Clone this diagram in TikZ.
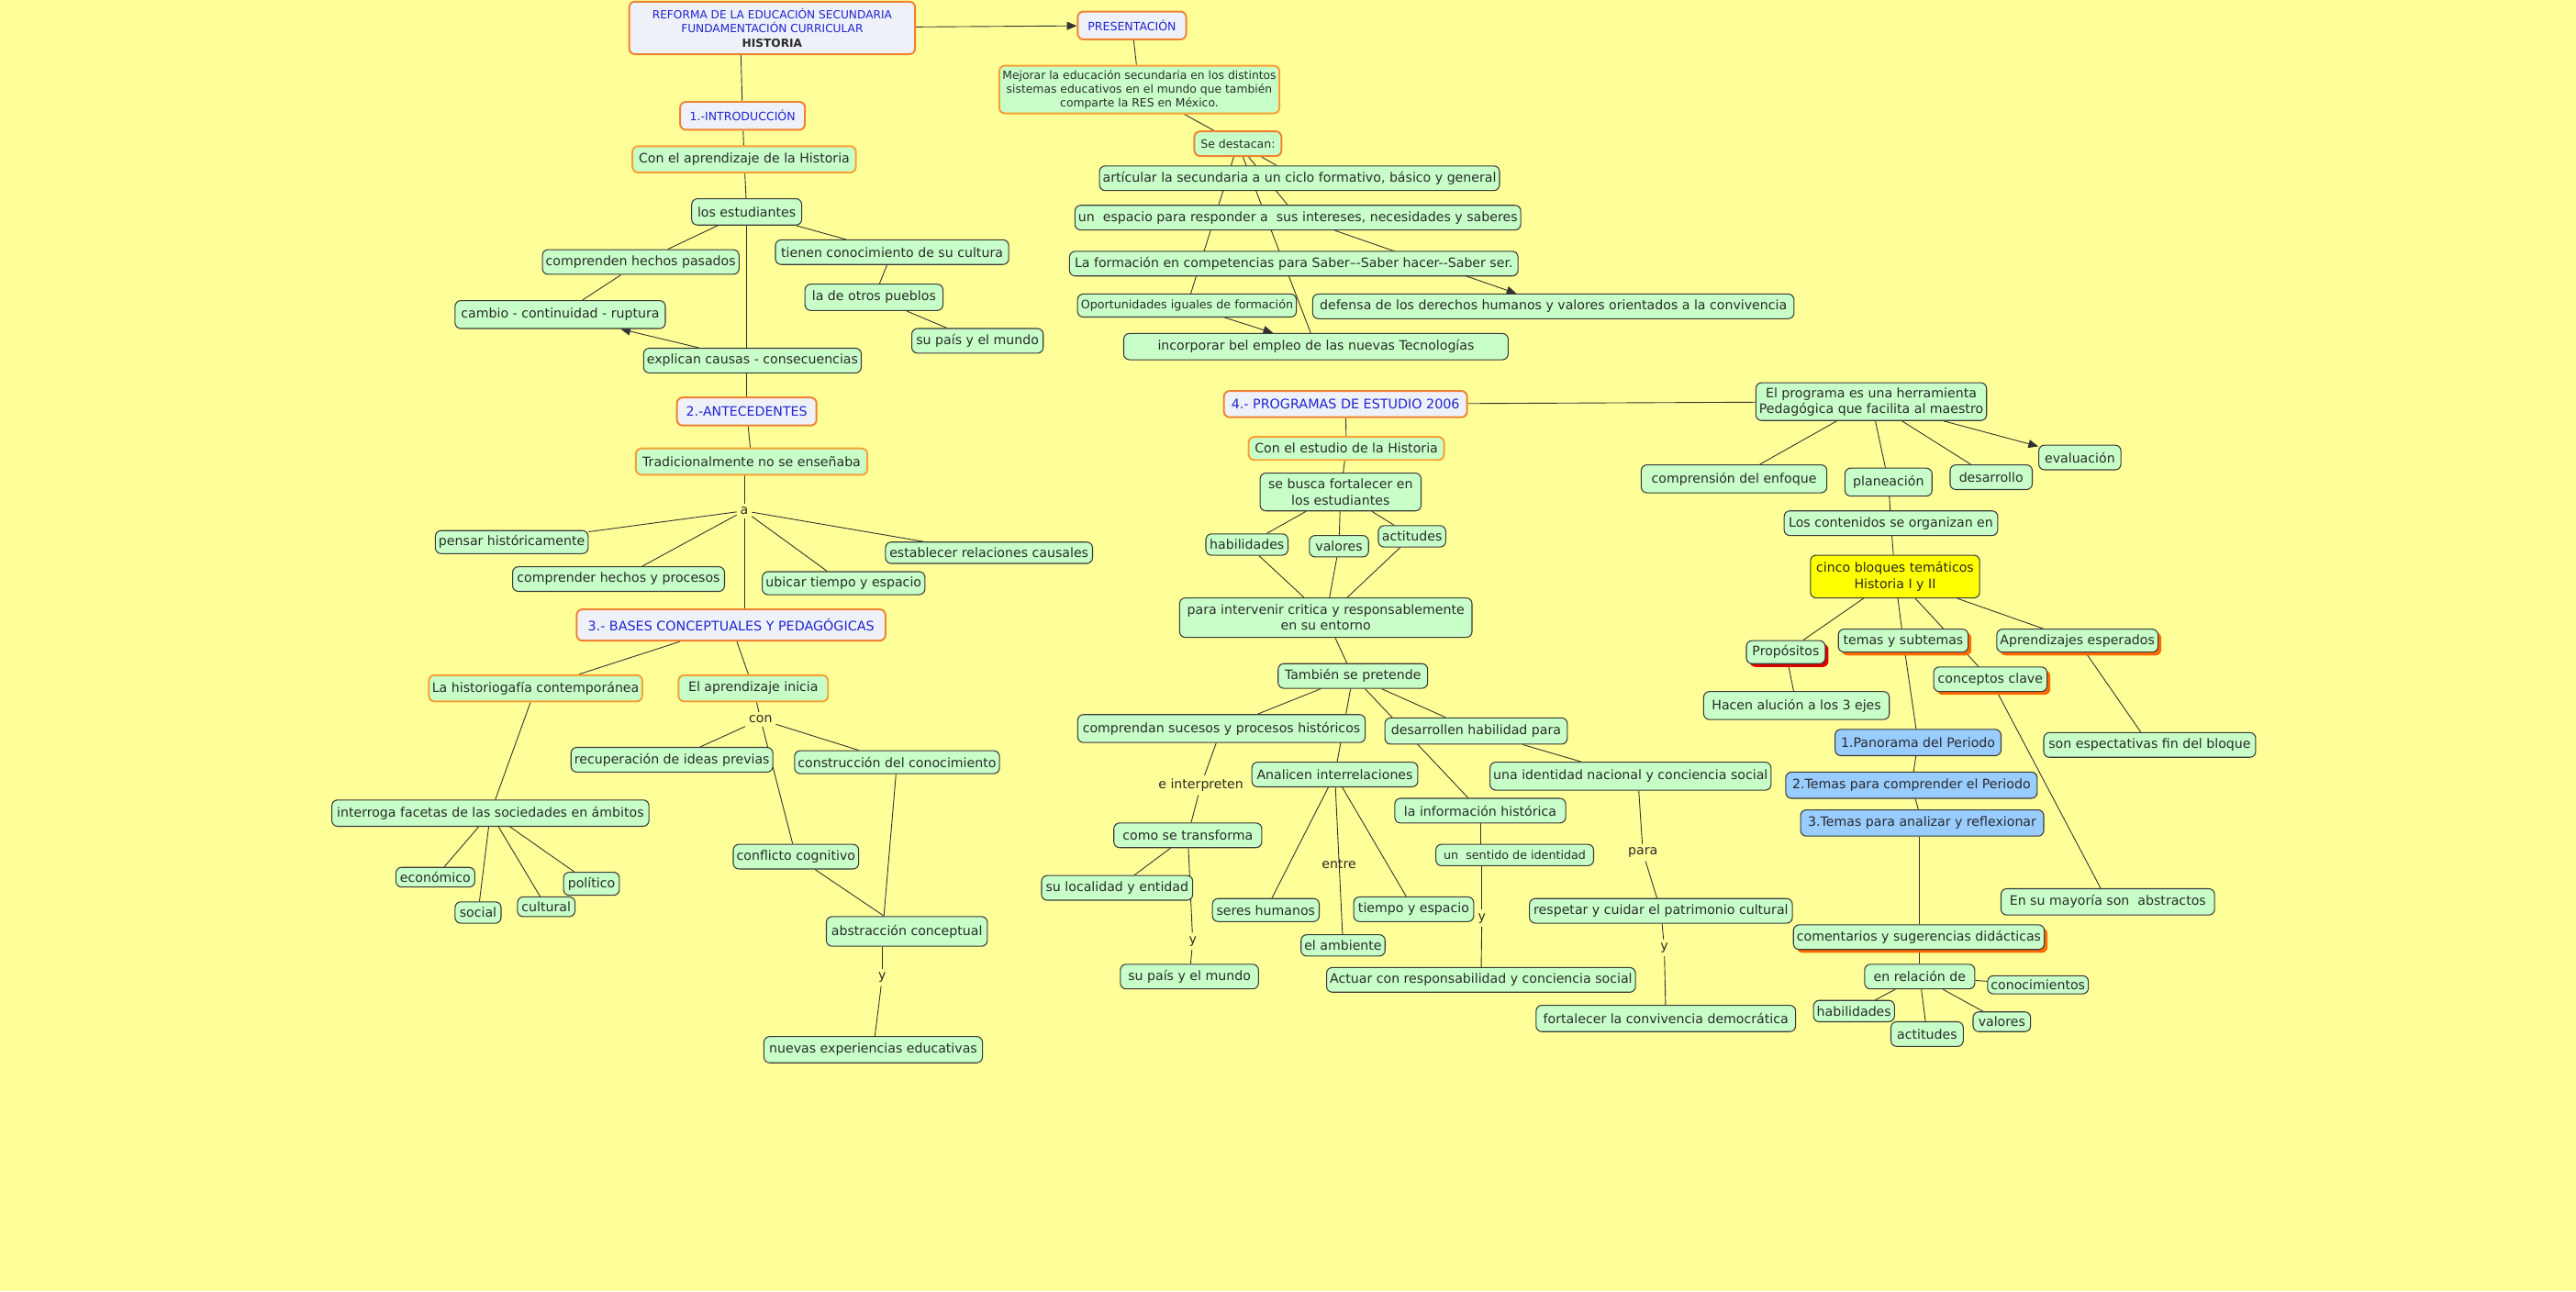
\documentclass[tikz,border=0pt]{standalone}
\usepackage{fontspec}
\setmainfont{DejaVu Sans}
\usetikzlibrary{arrows.meta,shadows}
\definecolor{bgcol}{HTML}{FFFF99}
\definecolor{gfill}{HTML}{C8FFC8}
\definecolor{bord}{HTML}{3A3A3A}
\definecolor{orb}{HTML}{F8A030}
\definecolor{hdb}{HTML}{F08232}
\definecolor{hfill}{HTML}{EEF2F8}
\definecolor{hblue}{HTML}{2323D0}
\definecolor{txt}{HTML}{2A2A2A}
\definecolor{lncol}{HTML}{333333}
\definecolor{bluefill}{HTML}{99CCFF}
\definecolor{yel}{HTML}{FFFF00}
\definecolor{shor}{HTML}{FF6A00}
\definecolor{shred}{HTML}{DD0000}
\pgfdeclarelayer{bg}
\pgfdeclarelayer{edges}
\pgfsetlayers{bg,edges,main}
\tikzset{
  every node/.style={font=\fontsize{7.9}{9.6}\selectfont, text=txt},
  g/.style={draw=bord, fill=gfill, rounded corners=3.5pt, line width=0.6pt, inner xsep=2pt, inner ysep=1pt, align=center},
  go/.style={g, draw=orb, line width=1.1pt},
  hd/.style={g, draw=hdb, fill=hfill, line width=1.1pt, text=hblue},
  bl/.style={g, fill=bluefill},
  lk/.style={inner sep=2pt},
  osh/.style={drop shadow={shadow xshift=2pt, shadow yshift=-2pt, fill=shor, opacity=1}},
  rsh/.style={drop shadow={shadow xshift=2pt, shadow yshift=-2pt, fill=shred, opacity=1}},
  ln/.style={line width=0.5pt, draw=lncol},
  ar/.style={ln, -{Triangle[length=6pt,width=5pt]}},
  sm/.style={font=\fontsize{7}{8.4}\selectfont},
}
\begin{document}
\begin{tikzpicture}[x=1pt,y=1pt]
\useasboundingbox (0,0) rectangle (1568,-786);
\begin{pgfonlayer}{bg}
\fill[bgcol] (0,0) rectangle (1568,-786);
\end{pgfonlayer}

% ---------- top ----------
\node[hd, minimum width=174pt, minimum height=32pt, font=\fontsize{6.8}{8.4}\selectfont] (title) at (470,-17)
  {REFORMA DE LA EDUCACIÓN SECUNDARIA\\FUNDAMENTACIÓN CURRICULAR\\\textcolor{txt}{\textbf{HISTORIA}}};
\node[hd, sm, minimum width=66pt, minimum height=17pt] (presentacion) at (689,-15.5) {PRESENTACIÓN};
\node[go, minimum width=169pt, minimum height=29pt, font=\fontsize{6.9}{8.3}\selectfont] (mejorar) at (693.5,-54.5)
  {Mejorar la educación secundaria en los distintos\\sistemas educativos en el mundo que también\\comparte la RES en México.};
\node[g, draw=hdb, line width=1.1pt, sm, minimum width=53pt, minimum height=15pt] (destacan) at (753.5,-87.5) {Se destacan:};
\node[g, minimum width=242pt, minimum height=15pt] (articular) at (791,-108.5) {artícular la secundaria a un ciclo formativo, básico y general};
\node[g, minimum width=270pt, minimum height=15pt] (espacio) at (790,-132.5) {un\ \ espacio para responder a\ \ sus intereses, necesidades y saberes};
\node[g, minimum width=273pt, minimum height=15pt] (formacion) at (787.5,-160.5) {La formación en competencias para Saber--{}-Saber hacer-{}-Saber ser.};
\node[g, font=\fontsize{7.1}{8.5}\selectfont, minimum width=127pt, minimum height=14pt] (oportunidades) at (722.5,-186) {Oportunidades iguales de formación};
\node[g, minimum width=293pt, minimum height=15pt] (defensa) at (945.5,-186.5) {defensa de los derechos humanos y valores orientados a la convivencia};
\node[g, minimum width=234pt, minimum height=16pt] (incorporar) at (801,-211) {incorporar bel empleo de las nuevas Tecnologías};

% ---------- left ----------
\node[hd, sm, minimum width=76pt, minimum height=17pt] (intro) at (452,-70.5) {1.-INTRODUCCIÓN};
\node[go, minimum width=136pt, minimum height=16pt] (conaprend) at (453,-97) {Con el aprendizaje de la Historia};
\node[g, minimum width=67pt, minimum height=16pt] (estudiantes) at (454.5,-129) {los estudiantes};
\node[g, minimum width=118pt, minimum height=15pt] (comprenden) at (390,-159.5) {comprenden hechos pasados};
\node[g, minimum width=142pt, minimum height=15pt] (tienen) at (543,-153.5) {tienen conocimiento de su cultura};
\node[g, minimum width=84pt, minimum height=16pt] (otros) at (532,-181) {la de otros pueblos};
\node[g, minimum width=80pt, minimum height=15pt] (supais1) at (595,-207.5) {su país y el mundo};
\node[g, minimum width=128pt, minimum height=17pt] (cambio) at (341,-191.5) {cambio - continuidad - ruptura};
\node[g, minimum width=132pt, minimum height=15pt] (explican) at (458,-219.5) {explican causas - consecuencias};
\node[hd, minimum width=85pt, minimum height=17pt] (antecedentes) at (454.5,-250.5) {2.-ANTECEDENTES};
\node[go, minimum width=141pt, minimum height=16pt] (tradicional) at (457.5,-281) {Tradicionalmente no se enseñaba};
\node[lk] (a) at (453,-311) {a};
\node[g, minimum width=93pt, minimum height=14pt] (pensar) at (311.5,-330) {pensar históricamente};
\node[g, minimum width=129pt, minimum height=15pt] (comprender) at (376.5,-352.5) {comprender hechos y procesos};
\node[g, minimum width=99pt, minimum height=14pt] (ubicar) at (513.5,-355) {ubicar tiempo y espacio};
\node[g, minimum width=126pt, minimum height=13pt] (establecer) at (602,-336.5) {establecer relaciones causales};
\node[hd, font=\fontsize{8}{9.6}\selectfont, minimum width=188pt, minimum height=19pt] (bases) at (445,-380.5) {3.- BASES CONCEPTUALES Y PEDAGÓGICAS};
\node[go, minimum width=128pt, minimum height=16pt] (historiografia) at (326,-419) {La historiogafía contemporánea};
\node[go, minimum width=91pt, minimum height=16pt] (aprendinicia) at (458.5,-419) {El aprendizaje inicia};
\node[lk] (con) at (463,-438) {con};
\node[g, minimum width=122pt, minimum height=15pt] (recuperacion) at (409,-462.5) {recuperación de ideas previas};
\node[g, minimum width=124pt, minimum height=14pt] (construccion) at (546,-464) {construcción del conocimiento};
\node[g, minimum width=75pt, minimum height=15pt] (conflicto) at (484.5,-521.5) {conflicto cognitivo};
\node[g, minimum width=98pt, minimum height=18pt] (abstraccion) at (552,-567) {abstracción conceptual};
\node[lk] (y1) at (537,-595) {y};
\node[g, minimum width=133pt, minimum height=16pt] (nuevas) at (531.5,-639) {nuevas experiencias educativas};
\node[g, minimum width=193pt, minimum height=16pt] (interroga) at (298.5,-495) {interroga facetas de las sociedades en ámbitos};
\node[g, minimum width=48pt, minimum height=12pt] (economico) at (265,-534) {económico};
\node[g, minimum width=28pt, minimum height=13pt] (social) at (291,-555.5) {social};
\node[g, minimum width=35pt, minimum height=12pt] (cultural) at (332.5,-552) {cultural};
\node[g, minimum width=34pt, minimum height=14pt] (politico) at (360,-538) {político};

% ---------- middle ----------
\node[hd, font=\fontsize{8}{9.6}\selectfont, minimum width=148pt, minimum height=16pt] (programas) at (819,-246) {4.- PROGRAMAS DE ESTUDIO 2006};
\node[g, minimum width=140pt, minimum height=23pt] (elprograma) at (1139,-244.5) {El programa es una herramienta\\Pedagógica que facilita al maestro};
\node[go, minimum width=119pt, minimum height=14pt] (conestudio) at (819.5,-273) {Con el estudio de la Historia};
\node[g, minimum width=98pt, minimum height=23pt] (sebusca) at (816,-299.5) {se busca fortalecer en\\los estudiantes};
\node[g, minimum width=50pt, minimum height=13pt] (habilidades1) at (759,-331.5) {habilidades};
\node[g, minimum width=36pt, minimum height=13pt] (valores1) at (815,-332.5) {valores};
\node[g, minimum width=41pt, minimum height=13pt] (actitudes1) at (859.5,-326.5) {actitudes};
\node[g, minimum width=178pt, minimum height=24pt] (paraintervenir) at (807,-376) {para intervenir critica y responsablemente\\en su entorno};
\node[g, minimum width=91pt, minimum height=15pt] (tambien) at (823.5,-411.5) {También se pretende};
\node[g, minimum width=175pt, minimum height=17pt] (comprendan) at (743.5,-443.5) {comprendan sucesos y procesos históricos};
\node[g, minimum width=111pt, minimum height=16pt] (desarrollen) at (898.5,-445) {desarrollen habilidad para};
\node[g, minimum width=101pt, minimum height=15pt] (analicen) at (812.5,-471.5) {Analicen interrelaciones};
\node[lk] (einterpreten) at (731,-478) {e interpreten};
\node[g, minimum width=90pt, minimum height=15pt] (comotransforma) at (723,-508.5) {como se transforma};
\node[g, minimum width=92pt, minimum height=15pt] (sulocalidad) at (680,-540.5) {su localidad y entidad};
\node[lk] (y2) at (726,-573) {y};
\node[g, minimum width=84pt, minimum height=15pt] (supais2) at (724,-594.5) {su país y el mundo};
\node[lk] (entre) at (815,-526) {entre};
\node[g, minimum width=65pt, minimum height=14pt] (seres) at (770.5,-554) {seres humanos};
\node[g, minimum width=51pt, minimum height=13pt] (ambiente) at (817.5,-575.5) {el ambiente};
\node[g, minimum width=73pt, minimum height=15pt] (tiempo) at (860.5,-553.5) {tiempo y espacio};
\node[g, minimum width=171pt, minimum height=17pt] (identidadnac) at (992.5,-472.5) {una identidad nacional y conciencia social};
\node[g, minimum width=104pt, minimum height=15pt] (infohist) at (901,-493.5) {la información histórica};
\node[g, font=\fontsize{7.1}{8.5}\selectfont, minimum width=96pt, minimum height=13pt] (sentido) at (922,-520.5) {un\ \ sentido de identidad};
\node[lk] (y3) at (902,-559) {y};
\node[g, minimum width=187pt, minimum height=15pt] (actuar) at (901.5,-596.5) {Actuar con responsabilidad y conciencia social};
\node[lk] (para) at (1000,-519) {para};
\node[g, minimum width=160pt, minimum height=15pt] (respetar) at (1011,-554.5) {respetar y cuidar el patrimonio cultural};
\node[lk] (y4) at (1013,-577) {y};
\node[g, minimum width=158pt, minimum height=16pt] (fortalecer) at (1014,-620) {fortalecer la convivencia democrática};

% ---------- right ----------
\node[g, minimum width=113pt, minimum height=17pt] (comprension) at (1055.5,-291.5) {comprensión del enfoque};
\node[g, minimum width=53pt, minimum height=17pt] (planeacion) at (1149.5,-293.5) {planeación};
\node[g, minimum width=50pt, minimum height=15pt] (desarrollo) at (1212,-290.5) {desarrollo};
\node[g, minimum width=50pt, minimum height=15pt] (evaluacion) at (1266,-278.5) {evaluación};
\node[g, minimum width=130pt, minimum height=15pt] (contenidos) at (1151,-318.5) {Los contenidos se organizan en};
\node[g, fill=yel, minimum width=103pt, minimum height=26pt] (cinco) at (1153.5,-351) {cinco bloques temáticos\\Historia I y II};
\node[g, rsh, minimum width=48pt, minimum height=14pt] (propositos) at (1087,-397) {Propósitos};
\node[g, osh, minimum width=79pt, minimum height=14pt] (temas) at (1158.5,-390) {temas y subtemas};
\node[g, osh, minimum width=97pt, minimum height=14pt] (aprendizajes) at (1264.5,-390) {Aprendizajes esperados};
\node[g, osh, minimum width=69pt, minimum height=15pt] (conceptos) at (1211.5,-413.5) {conceptos clave};
\node[g, minimum width=113pt, minimum height=17pt] (hacen) at (1093.5,-429.5) {Hacen alución a los 3 ejes};
\node[bl, minimum width=101pt, minimum height=16pt] (panorama) at (1167.5,-452) {1.Panorama del Periodo};
\node[bl, minimum width=153pt, minimum height=16pt] (temas2) at (1163.5,-478) {2.Temas para comprender el Periodo};
\node[bl, minimum width=148pt, minimum height=16pt] (temas3) at (1170,-501) {3.Temas para analizar y reflexionar};
\node[g, minimum width=129pt, minimum height=15pt] (sonesp) at (1308.5,-453.5) {son espectativas fin del bloque};
\node[g, minimum width=130pt, minimum height=16pt] (mayoria) at (1283,-549) {En su mayoría son\ \ abstractos};
\node[g, osh, minimum width=152pt, minimum height=15pt] (comentarios) at (1168,-570.5) {comentarios y sugerencias didácticas};
\node[g, minimum width=67pt, minimum height=15pt] (enrelacion) at (1168.5,-594.5) {en relación de};
\node[g, minimum width=61pt, minimum height=11pt] (conocimientos) at (1240.5,-599.5) {conocimientos};
\node[g, minimum width=49pt, minimum height=13pt] (habilidades2) at (1128.5,-615.5) {habilidades};
\node[g, minimum width=44pt, minimum height=15pt] (actitudes2) at (1173,-629.5) {actitudes};
\node[g, minimum width=35pt, minimum height=12pt] (valores2) at (1218.5,-622) {valores};

% ---------- connectors ----------
\begin{pgfonlayer}{edges}
\draw[ar] (title) -- (presentacion);
\draw[ln] ([xshift=-19pt]title.south) -- (intro);
\draw[ln] (presentacion) -- (mejorar);
\draw[ln] (mejorar) -- (destacan);
\draw[ln] (destacan) -- (articular);
\draw[ln] (destacan) -- (espacio);
\draw[ln] (destacan) -- (oportunidades);
\draw[ln] (destacan) -- (incorporar);
\draw[ar] (espacio) -- (defensa);
\draw[ar] (oportunidades) -- (incorporar);

\draw[ln] (intro) -- (conaprend);
\draw[ln] (conaprend) -- (estudiantes);
\draw[ln] (estudiantes) -- (estudiantes |- explican.north);
\draw[ln] (explican.south -| antecedentes) -- (antecedentes);
\draw[ln] (estudiantes) -- (comprenden);
\draw[ln] (estudiantes) -- (tienen);
\draw[ln] (comprenden) -- (cambio);
\draw[ln] (tienen) -- (otros);
\draw[ln] (otros) -- (supais1);
\draw[ar] (explican) -- (cambio);
\draw[ln] (antecedentes) -- (tradicional);
\draw[ln] (tradicional.south -| a) -- (a);
\draw[ln] (a) -- (pensar);
\draw[ln] (a) -- (comprender);
\draw[ln] (a) -- (ubicar);
\draw[ln] (a) -- (establecer);
\draw[ln] (a) -- (a |- bases.north);
\draw[ln] (bases) -- (historiografia);
\draw[ln] (bases) -- (aprendinicia);
\draw[ln] (aprendinicia) -- (con);
\draw[ln] (con) -- (recuperacion);
\draw[ln] (con) -- (construccion);
\draw[ln] (con) -- (conflicto);
\draw[ln] (conflicto) -- (abstraccion);
\draw[ln] (construccion) -- ([xshift=-14pt]abstraccion.north);
\draw[ln] (abstraccion.south -| y1) -- (y1);
\draw[ln] (y1) -- (nuevas);
\draw[ln] (historiografia) -- (interroga);
\draw[ln] (interroga) -- (economico);
\draw[ln] (interroga) -- (social);
\draw[ln] (interroga) -- (cultural);
\draw[ln] (interroga) -- (politico);

\draw[ln] (programas) -- (elprograma);
\draw[ln] (programas) -- (conestudio);
\draw[ln] (conestudio) -- (sebusca);
\draw[ln] (sebusca) -- (habilidades1);
\draw[ln] (sebusca) -- (valores1);
\draw[ln] (sebusca) -- (actitudes1);
\draw[ln] (habilidades1) -- (paraintervenir);
\draw[ln] (valores1) -- (paraintervenir);
\draw[ln] (actitudes1) -- (paraintervenir);
\draw[ln] (paraintervenir) -- (tambien);
\draw[ln] (tambien) -- (comprendan);
\draw[ln] (tambien) -- (analicen);
\draw[ln] (tambien) -- (infohist);
\draw[ln] (tambien) -- (desarrollen);
\draw[ln] (desarrollen) -- (identidadnac);
\draw[ln] (comprendan) -- (einterpreten);
\draw[ln] (einterpreten) -- (comotransforma);
\draw[ln] (comotransforma) -- (sulocalidad);
\draw[ln] (comotransforma) -- (y2);
\draw[ln] (y2) -- (supais2);
\draw[ln] (analicen) -- (seres);
\draw[ln] (analicen) -- (ambiente);
\draw[ln] (analicen) -- (tiempo);
\draw[ln] (infohist) -- (infohist |- sentido.north);
\draw[ln] (sentido.south -| y3) -- (y3);
\draw[ln] (y3) -- (actuar);
\draw[ln] ([xshift=5pt]identidadnac.south) -- (para);
\draw[ln] (para) -- (respetar);
\draw[ln] (respetar) -- (y4);
\draw[ln] (y4) -- (fortalecer);

\draw[ln] (elprograma) -- (comprension);
\draw[ln] (elprograma) -- (planeacion);
\draw[ln] (elprograma) -- (desarrollo);
\draw[ar] (elprograma) -- (evaluacion);
\draw[ln] (planeacion) -- (contenidos);
\draw[ln] (contenidos) -- (cinco);
\draw[ln] (cinco) -- (propositos);
\draw[ln] (cinco) -- (temas);
\draw[ln] (cinco) -- (conceptos);
\draw[ln] (cinco) -- (aprendizajes);
\draw[ln] (propositos) -- (hacen);
\draw[ln] (temas) -- (panorama);
\draw[ln] (panorama) -- (temas2);
\draw[ln] (temas2) -- (temas3);
\draw[ln] ([xshift=-2pt]temas3.south) -- ([xshift=-2pt]temas3.south |- comentarios.north);
\draw[ln] (aprendizajes) -- (sonesp);
\draw[ln] (conceptos) -- (mayoria);
\draw[ln] (comentarios.south -| enrelacion) -- (enrelacion);
\draw[ln] (enrelacion) -- (conocimientos);
\draw[ln] (enrelacion) -- (habilidades2);
\draw[ln] (enrelacion) -- (actitudes2);
\draw[ln] (enrelacion) -- (valores2);
\end{pgfonlayer}
\end{tikzpicture}
\end{document}
